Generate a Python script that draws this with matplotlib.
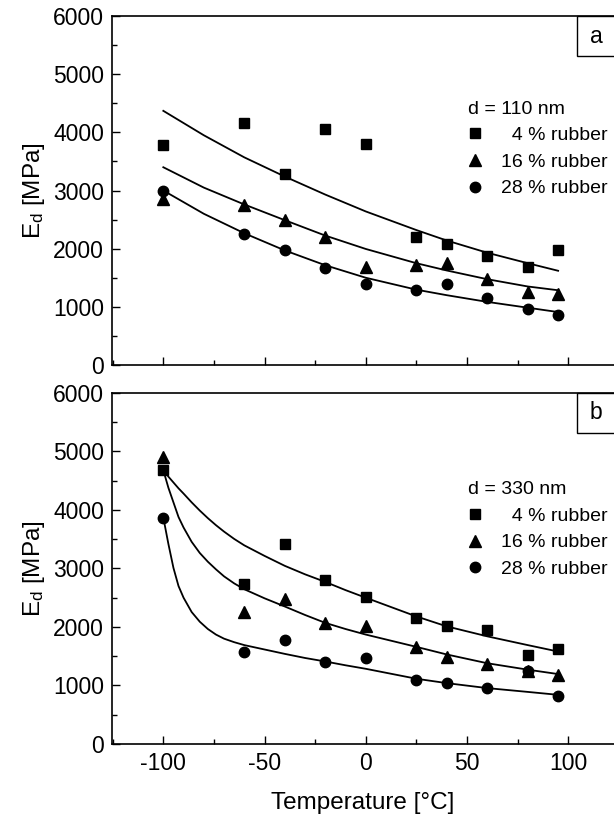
import matplotlib
matplotlib.use("Agg")
import matplotlib.pyplot as plt
from matplotlib.patches import Rectangle
from matplotlib.ticker import MultipleLocator

plt.rcParams['font.family'] = ['Liberation Sans', 'DejaVu Sans']
plt.rcParams['mathtext.fontset'] = 'custom'
plt.rcParams['mathtext.rm'] = 'Liberation Sans'
plt.rcParams['axes.unicode_minus'] = False

# ---------------- data ----------------
temps = [-100, -60, -40, -20, 0, 25, 40, 60, 80, 95]

# panel a (d = 110 nm)
a_r4 = [3780, 4160, 3280, 4050, 3800, 2200, 2080, 1880, 1690, 1980]
a_r16 = [2850, 2750, 2490, 2200, 1680, 1720, 1750, 1470, 1250, 1220]
a_r28 = [3000, 2250, 1970, 1670, 1390, 1290, 1400, 1150, 960, 860]

fit_t_a = [-100, -80, -60, -40, -20, 0, 25, 40, 60, 80, 95]
a_fit4 = [4370, 3950, 3570, 3240, 2930, 2640, 2320, 2140, 1930, 1750, 1620]
a_fit16 = [3400, 3050, 2760, 2490, 2225, 1995, 1750, 1625, 1475, 1350, 1285]
a_fit28 = [3000, 2600, 2265, 1970, 1715, 1500, 1295, 1200, 1085, 985, 910]

# panel b (d = 330 nm)
b_r4 = [4680, 2730, 3410, 2800, 2510, 2150, 2010, 1940, 1520, 1630]
b_r16 = [4900, 2250, 2480, 2070, 2010, 1660, 1490, 1360, 1240, 1180]
b_r28 = [3860, 1570, 1780, 1400, 1470, 1100, 1050, 950, 1240, 820]

fit_t_b = [-100, -97.5, -95, -92.5, -90, -86, -82, -78, -74, -70, -65, -60, -50,
           -40, -30, -20, -10, 0, 25, 40, 60, 80, 95]
b_fit4 = [4690, 4570, 4470, 4370, 4280, 4130, 3990, 3860, 3740, 3630, 3505, 3395, 3215,
          3045, 2900, 2770, 2630, 2500, 2180, 2010, 1840, 1690, 1580]
b_fit16 = [4680, 4380, 4130, 3880, 3700, 3455, 3265, 3115, 2985, 2865, 2745, 2645, 2490,
           2350, 2205, 2070, 1965, 1870, 1660, 1530, 1380, 1270, 1195]
b_fit28 = [3870, 3420, 3010, 2700, 2500, 2255, 2090, 1965, 1870, 1800, 1740, 1690, 1615,
           1540, 1470, 1410, 1345, 1285, 1115, 1040, 955, 890, 840]

labels = ['  4 % rubber', '16 % rubber', '28 % rubber']
titles = ['d = 110 nm', 'd = 330 nm']
panel_tags = ['a', 'b']

# ---------------- figure ----------------
fig = plt.figure(figsize=(6.14, 8.18), dpi=100)
ax_a = fig.add_axes([0.1829, 0.5538, 0.8171, 0.4266])
ax_b = fig.add_axes([0.1829, 0.0905, 0.8171, 0.4291])

TFS = 16.5
LFS = 17.5
panels = [
    (ax_a, a_r4, a_r16, a_r28, fit_t_a, a_fit4, a_fit16, a_fit28, 0.885, 0.777),
    (ax_b, b_r4, b_r16, b_r28, fit_t_b, b_fit4, b_fit16, b_fit28, 0.886, 0.768),
]

for i, (ax, r4, r16, r28, ft, f4, f16, f28, boxy, legy) in enumerate(panels):
    ax.plot(ft, f4, color='black', lw=1.3, zorder=2)
    ax.plot(ft, f16, color='black', lw=1.3, zorder=2)
    ax.plot(ft, f28, color='black', lw=1.3, zorder=2)
    h1, = ax.plot(temps, r4, ls='none', marker='s', ms=7, color='black', zorder=3)
    h2, = ax.plot(temps, r16, ls='none', marker='^', ms=8.5, color='black', zorder=3)
    h3, = ax.plot(temps, r28, ls='none', marker='o', ms=7.5, color='black', zorder=3)

    ax.set_xlim(-125.2, 122.6)
    ax.set_ylim(0, 6000)
    ax.yaxis.set_major_locator(MultipleLocator(1000))
    ax.yaxis.set_minor_locator(MultipleLocator(500))
    ax.xaxis.set_major_locator(MultipleLocator(50))
    ax.xaxis.set_minor_locator(MultipleLocator(25))
    ax.tick_params(which='both', direction='in', top=False, right=False,
                   labelsize=TFS, width=1.0, pad=6)
    ax.tick_params(which='major', length=6)
    ax.tick_params(which='minor', length=3.5)
    for s in ['left', 'bottom', 'top']:
        ax.spines[s].set_linewidth(1.2)
    ax.spines['right'].set_visible(False)

    ax.set_ylabel(r'$\mathregular{E_d}$ [MPa]', fontsize=LFS, labelpad=4)

    ax.legend([h1, h2, h3], labels, title=titles[i], loc='upper right',
              bbox_to_anchor=(1.0, legy), frameon=False, fontsize=14,
              title_fontsize=14, alignment='left', handlelength=0.8,
              handletextpad=0.9, labelspacing=0.46, borderpad=0.2,
              borderaxespad=0.15)

    ax.add_patch(Rectangle((0.926, boxy), 0.2, 1 - boxy, transform=ax.transAxes,
                           facecolor='white', edgecolor='black', lw=1.0,
                           clip_on=False, zorder=5))
    ax.text(0.964, boxy + (1 - boxy) / 2, panel_tags[i], transform=ax.transAxes,
            fontsize=TFS, ha='center', va='center', zorder=6)

ax_a.tick_params(labelbottom=False)
ax_b.set_xlabel('Temperature [°C]', fontsize=LFS, labelpad=12)

fig.savefig('out.png', dpi=100)
